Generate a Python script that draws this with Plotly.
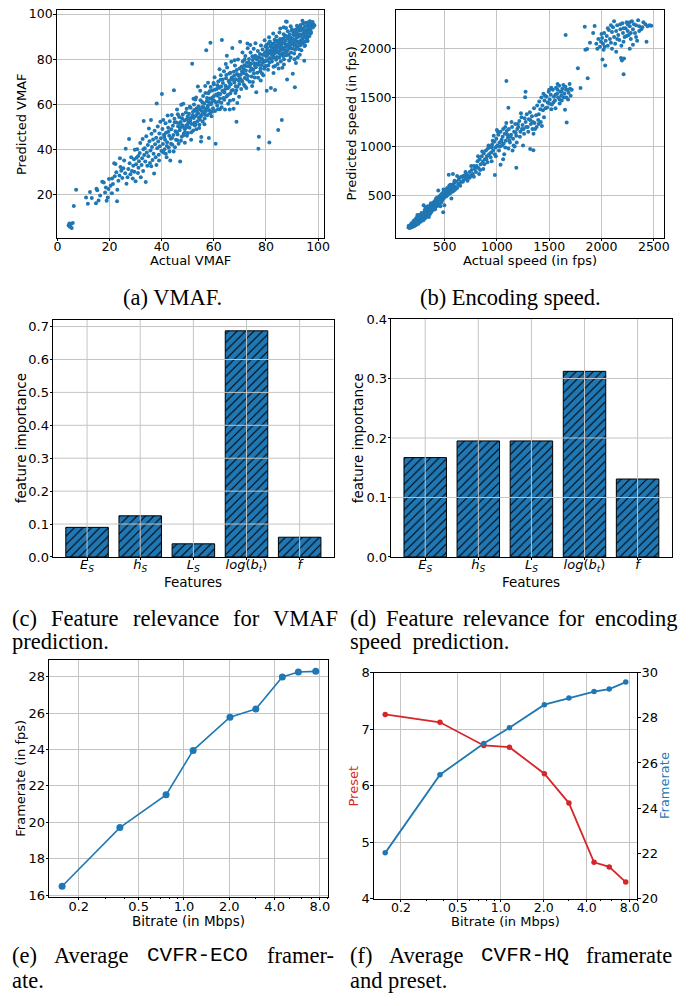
import plotly.graph_objects as go

W, H = 699, 1006
BLUE = "#1f77b4"
RED = "#d62728"
GRID = "#c4c4c4"

# ---------------- data ----------------
vmaf_points = [
    (4.3,6.2),(4.8,5.6),(5.2,6.8),(5.5,5.1),(5.9,7.3),(4.6,7.0),(6.3,14.8),(7.2,22.0),
    (11.0,18.6),(11.7,15.8),(13.2,18.4),(14.8,16.0),(15.3,21.8),(15.8,17.3),(16.4,19.5),(17.2,25.6),(17.8,25.3),
    (18.3,20.8),(18.9,17.2),(19.3,18.6),(19.6,22.4),(15.0,22.5),(12.5,21.0),(18.6,23.0),(19.8,26.8),
    (20.4,23.8),(20.9,20.5),(21.3,24.6),(21.8,33.8),(22.3,33.5),(22.6,29.8),(22.9,16.9),(23.4,26.0),(23.8,28.4),
    (24.2,32.1),(24.5,30.5),(24.9,27.2),(25.3,31.6),(25.6,35.0),(26.0,29.3),(26.2,40.2),(26.5,24.7),(26.9,27.6),
    (27.2,31.2),(27.5,44.5),(27.7,33.8),(28.0,28.9),(28.3,36.5),(28.6,30.3),(28.9,27.0),(29.1,32.7),(29.4,35.6),
    (29.7,39.8),(30.0,25.8),(21.0,27.0),(23.0,22.0),(24.0,36.0),(22.0,28.0),(29.5,30.0),
    (30.2,33.4),(30.4,36.2),(30.6,40.0),(30.9,29.5),(31.1,31.8),(31.3,34.7),(31.6,38.3),(31.8,42.8),(32.0,27.6),
    (32.3,33.0),(32.5,36.0),(32.7,44.5),(32.9,30.3),(33.1,52.5),(33.3,37.5),(33.5,40.4),(33.7,34.6),(33.9,25.5),
    (34.1,45.8),(34.3,38.6),(34.5,32.7),(34.7,41.9),(34.9,36.9),(35.1,49.2),(35.3,43.6),(35.5,33.9),(35.7,39.4),
    (35.9,53.0),(36.1,46.9),(36.3,41.0),(36.5,35.2),(36.7,44.3),(36.9,38.0),(37.1,29.2),(37.3,48.2),(37.5,42.2),
    (37.7,36.4),(37.9,45.1),(38.1,60.3),(38.3,40.5),(38.5,50.1),(38.7,43.4),(38.9,37.6),(39.1,47.0),(39.3,41.3),
    (39.5,52.2),(39.7,44.9),(39.9,39.2),(40.1,64.5),(40.3,49.0),(40.5,42.3),(40.7,38.6),(40.9,46.4),(33.0,40.0),
    (31.0,37.0),(36.0,32.5),(38.0,33.0),(39.0,35.0),
    (41.1,40.0),(41.3,44.2),(41.5,51.6),(41.7,47.3),(41.9,36.5),(42.1,43.1),(42.3,55.0),(42.5,49.5),(42.7,40.8),
    (42.9,46.0),(43.1,52.4),(43.3,35.0),(43.5,44.7),(43.7,48.9),(43.9,55.2),(44.1,42.0),(44.3,50.4),(44.5,46.3),
    (44.7,66.2),(44.9,53.5),(45.1,40.9),(45.3,48.0),(45.5,44.2),(45.7,51.9),(45.9,57.6),(46.1,46.6),(46.3,50.2),
    (46.5,42.5),(46.7,54.3),(46.9,48.4),(47.1,34.6),(47.3,52.1),(47.5,59.8),(47.7,45.5),(47.9,50.7),(48.1,55.4),
    (48.3,60.2),(48.5,47.0),(48.7,52.8),(48.9,42.9),(49.1,49.3),(49.3,56.3),(49.5,53.2),(49.7,46.0),(49.9,51.0),
    (41.0,45.5),(42.0,41.5),(43.0,39.0),(44.0,45.0),(45.0,52.0),(46.0,44.0),(47.0,49.5),(48.0,50.0),(49.0,47.5),
    (50.0,54.5),(44.6,39.0),(45.8,47.5),(46.8,51.5),(47.8,53.8),(48.8,49.0),(49.6,58.0),(43.6,42.5),(42.6,47.8),
    (41.6,38.0),(40.6,53.0),(46.2,55.5),(47.4,43.8),(48.4,46.2),(49.4,50.5),
    (50.1,47.2),(50.3,51.9),(50.5,55.8),(50.7,49.6),(50.9,53.6),(51.1,58.4),(51.3,44.2),(51.5,51.2),(51.7,77.9),
    (51.9,55.0),(52.1,48.3),(52.3,53.9),(52.5,57.4),(52.7,50.6),(52.9,62.1),(53.1,54.8),(53.3,48.9),(53.5,56.9),
    (53.7,52.4),(53.9,67.9),(54.1,59.0),(54.3,54.0),(54.5,50.9),(54.7,57.6),(54.9,61.7),(55.1,43.5),(55.3,55.2),
    (55.5,58.8),(55.7,52.3),(55.9,63.6),(56.1,56.4),(56.3,60.2),(56.5,53.7),(56.7,68.1),(56.9,57.8),(57.1,84.0),
    (57.3,61.3),(57.5,55.1),(57.7,59.3),(57.9,64.9),(58.1,45.0),(58.3,57.3),(58.5,62.5),(58.7,87.3),(58.9,60.0),
    (59.1,54.6),(59.3,66.1),(59.5,63.0),(59.7,58.2),(59.9,69.4),(60.1,61.5),(60.3,72.0),(60.5,57.0),(60.7,42.5),
    (60.9,64.3),(50.0,50.0),(51.0,52.5),(52.0,56.5),(53.0,51.0),(54.0,56.0),(55.0,54.5),(56.0,58.5),(57.0,57.0),
    (58.0,61.0),(59.0,60.5),(60.0,63.5),(50.6,52.8),(51.6,54.2),(52.6,51.8),(53.6,55.6),(54.6,53.2),(55.6,60.9),
    (56.6,55.3),(57.6,58.6),(58.6,56.0),(59.6,61.9),(51.4,47.5),(52.4,59.9),(53.4,58.1),(54.4,49.4),(55.4,57.0),
    (56.4,51.1),(57.4,62.8),(58.4,65.8),(59.4,56.8),(55.2,45.4),(50.8,58.9),(53.2,63.0),(56.8,65.0),(58.8,67.6),
    (52.2,62.4),(54.8,66.0),(57.8,69.5),
    (61.1,66.7),(61.3,59.4),(61.5,63.7),(61.7,70.1),(61.9,61.1),(62.1,67.3),(62.3,57.8),(62.5,64.5),(62.7,72.8),
    (62.9,60.6),(63.1,88.5),(63.3,66.0),(63.5,69.4),(63.7,62.8),(63.9,74.6),(64.1,65.2),(64.3,57.6),(64.5,68.2),
    (64.7,71.5),(64.9,63.4),(65.1,76.3),(65.3,67.1),(65.5,60.2),(65.7,70.3),(65.9,73.6),(66.1,57.7),(66.3,64.8),
    (66.5,68.9),(66.7,78.8),(66.9,71.9),(67.1,85.0),(67.3,66.3),(67.5,62.0),(67.7,74.4),(67.9,69.6),(68.1,77.2),
    (68.3,65.0),(68.5,71.1),(68.7,52.2),(68.9,73.4),(69.1,67.8),(69.3,79.8),(69.5,70.5),(69.7,63.3),(69.9,75.8),
    (60.4,66.4),(61.4,68.4),(62.4,62.5),(63.4,71.0),(64.4,66.8),(65.4,64.1),(66.4,74.0),(67.4,70.8),(68.4,68.0),
    (69.4,72.7),(60.8,60.9),(61.8,64.8),(62.8,67.9),(63.8,65.5),(64.8,73.0),(65.8,67.6),(66.8,66.0),(67.8,72.6),
    (68.8,75.2),(69.8,69.0),(62.2,75.5),(64.6,77.8),(66.2,61.5),(67.6,58.0),(69.0,60.5),(63.0,58.6),(65.0,81.5),
    (68.0,79.5),(61.6,57.8),(66.6,71.0),(60.0,68.8),(70.0,71.5),(64.0,62.0),(66.0,69.5),(68.6,66.2),(62.6,70.8),
    (70.1,87.7),(70.3,73.1),(70.5,66.8),(70.7,76.6),(70.9,70.2),(71.1,79.0),(71.3,73.9),(71.5,68.7),(71.7,77.3),
    (71.9,71.6),(72.1,81.4),(72.3,75.0),(72.5,67.2),(72.7,78.4),(72.9,86.9),(73.1,72.5),(73.3,76.8),(73.5,80.1),
    (73.7,70.0),(73.9,74.7),(74.1,82.9),(74.3,77.9),(74.5,72.3),(74.7,68.1),(74.9,79.6),(75.1,75.3),(75.3,84.6),
    (75.5,78.2),(75.7,71.9),(75.9,81.5),(76.1,76.4),(76.3,65.3),(76.5,79.9),(76.7,74.0),(76.9,83.6),(77.1,40.2),
    (77.3,45.6),(77.5,78.8),(77.7,82.3),(77.9,76.0),(78.1,86.0),(78.3,80.3),(78.5,73.6),(78.7,84.3),(78.9,78.6),
    (79.1,81.9),(79.3,75.7),(79.5,88.4),(79.7,83.1),(79.9,79.4),(70.4,70.9),(71.4,75.6),(72.4,73.3),(73.4,78.5),
    (74.4,75.8),(75.4,73.7),(76.4,78.1),(77.4,80.7),(78.4,77.4),(79.4,79.0),(70.8,74.5),(71.8,79.8),(72.8,71.0),
    (73.8,77.0),(74.8,81.3),(75.8,77.0),(76.8,80.8),(77.8,74.6),(78.8,82.0),(79.8,85.6),(71.0,83.0),(73.0,84.8),
    (75.0,69.8),(77.0,71.7),(79.0,72.8),(72.0,68.0),(74.0,86.3),(76.0,87.0),(78.0,70.5),(80.0,77.0),(72.2,77.0),
    (75.6,80.6),(77.2,77.5),(78.6,79.9),(79.6,76.9),
    (80.1,81.3),(80.3,66.0),(80.5,84.9),(80.7,79.6),(80.9,77.2),(81.1,83.0),(81.3,43.0),(81.5,80.5),(81.7,85.8),
    (81.9,67.2),(82.1,82.2),(82.3,78.9),(82.5,86.8),(82.7,81.5),(82.9,76.6),(83.1,84.1),(83.3,88.6),(83.5,66.3),
    (83.7,82.8),(83.9,79.7),(84.1,86.2),(84.3,83.5),(84.5,77.8),(84.7,48.5),(84.9,85.3),(85.1,80.7),(85.3,87.6),
    (85.5,83.9),(85.7,78.9),(85.9,86.0),(86.1,53.0),(86.3,82.4),(86.5,89.1),(86.7,85.0),(86.9,79.9),(87.1,87.2),
    (87.3,83.0),(87.5,90.4),(87.7,96.7),(87.9,86.5),(88.1,71.0),(88.3,84.1),(88.5,89.2),(88.7,82.0),(88.9,87.8),
    (89.1,91.1),(89.3,85.2),(89.5,80.7),(89.7,88.6),(89.9,92.7),(80.2,86.3),(80.6,81.9),(81.0,87.0),(81.4,78.5),
    (81.8,84.0),(82.2,80.2),(82.6,83.3),(83.0,80.8),(83.4,85.4),(83.8,87.9),(84.2,81.0),(84.6,85.6),(85.0,82.6),
    (85.4,88.9),(85.8,84.7),(86.2,86.9),(86.6,81.4),(87.0,84.5),(87.4,88.3),(87.8,81.7),(88.2,86.3),(88.6,90.1),
    (89.0,84.8),(89.4,89.7),(89.8,86.6),(80.4,83.8),(81.2,89.7),(82.0,85.6),(82.8,91.4),(83.6,84.6),(84.4,88.2),
    (85.2,91.8),(86.0,88.2),(86.8,91.0),(87.6,85.6),(88.4,92.4),(89.2,87.3),(80.8,75.3),(81.6,82.7),(82.4,84.9),
    (83.2,82.6),(84.0,84.3),(84.8,86.9),(85.6,81.9),(86.4,84.2),(87.2,89.8),(88.0,83.4),(88.8,85.6),(89.6,83.0),
    (82.9,73.8),(84.9,75.8),(86.9,77.6),(88.9,79.4),(80.0,79.2),(83.5,77.0),(87.7,93.8),(89.5,94.6),(85.5,93.6),
    (86.3,76.2),(81.5,87.8),(84.0,90.0),(88.0,96.6),(86.8,94.2),(83.0,86.9),
    (90.1,89.0),(90.3,73.5),(90.5,92.0),(90.7,86.8),(90.9,90.5),(91.1,67.5),(91.3,88.6),(91.5,93.2),(91.7,85.5),
    (91.9,91.3),(92.1,87.7),(92.3,94.3),(92.5,89.9),(92.7,84.4),(92.9,92.6),(93.1,88.1),(93.3,95.1),(93.5,90.7),
    (93.7,86.9),(93.9,93.5),(94.1,89.2),(94.3,95.8),(94.5,91.6),(94.7,79.3),(94.9,94.4),(95.1,90.2),(95.3,96.2),
    (95.5,92.9),(95.7,88.6),(95.9,94.9),(96.1,91.8),(96.3,96.4),(96.5,93.8),(96.7,90.3),(96.9,96.8),(97.1,94.5),
    (97.3,92.1),(97.5,96.0),(97.7,95.0),(97.9,96.5),(98.3,95.4),(98.6,94.9),(90.2,84.7),(90.6,90.9),(91.0,86.1),
    (91.4,91.9),(91.8,89.6),(92.2,91.0),(92.6,87.1),(93.0,90.3),(93.4,92.8),(93.8,88.6),(94.2,93.2),(94.6,89.6),
    (95.0,92.4),(95.4,90.0),(95.8,93.0),(96.2,94.6),(96.6,95.3),(97.0,93.1),(90.4,88.0),(91.2,84.2),(92.0,85.5),
    (92.8,90.8),(93.6,84.0),(94.4,87.5),(95.2,87.8),(96.0,89.6),(90.8,82.5),(91.6,87.2),(92.4,92.9),(93.2,86.2),
    (94.0,91.0),(94.8,85.8),(95.6,91.2),(96.4,92.0),(92.2,80.8),(93.0,82.0),(95.0,86.0),(91.0,80.0),(94.0,97.0),
    (91.9,94.8),(93.3,93.9),(90.0,93.3),(96.0,88.0),(97.2,91.5),(98.0,94.0),(91.5,78.3),
]

speed_points = [
    (155,172),(162,180),(170,176),(175,195),(180,185),(186,200),(190,178),(195,210),(200,192),(205,220),(208,205),
    (212,188),(216,230),(220,212),(224,240),(228,198),(232,225),(236,250),(240,215),(244,236),(248,262),(252,228),
    (256,248),(260,275),(264,240),(268,258),(272,290),(276,250),(280,270),(284,300),(288,262),(292,285),(296,312),
    (300,275),(304,295),(308,330),(312,288),(316,308),(320,345),(324,298),(328,320),(332,360),(336,310),(340,333),
    (344,375),(348,322),(352,348),(356,390),(360,335),(364,362),(368,400),(372,348),(376,376),(380,412),(384,360),
    (388,390),(392,425),(396,372),(400,402),(404,440),(408,385),(412,415),(416,452),(420,398),(424,428),(428,465),
    (432,410),(436,442),(440,478),(444,422),(448,455),(452,492),(456,435),(460,468),(464,505),(468,448),(472,480),
    (476,518),(480,460),(484,494),(488,530),(492,472),(496,506),(500,545),
    (158,190),(166,168),(178,172),(184,215),(192,195),(198,182),(203,238),(210,200),(218,196),(226,218),(234,208),
    (238,268),(246,220),(254,282),(262,232),(270,244),(278,305),(286,280),(294,262),(302,318),(310,296),(318,270),
    (326,340),(334,295),(342,318),(350,370),(358,312),(366,385),(374,332),(382,378),(390,352),(398,415),(406,370),
    (414,400),(422,445),(430,392),(438,462),(446,405),(454,470),(462,440),(470,495),(478,450),(486,512),(494,488),
    (260,300),(280,320),(300,250),(320,300),(340,390),(360,310),(380,395),(400,380),(420,470),(440,430),(460,390),
    (480,520),(250,210),(270,230),(290,245),(310,350),(330,285),(350,330),(370,420),(390,370),(410,360),(430,480),
    (450,410),(470,430),(490,560),(230,270),(240,300),(215,250),(300,400),(320,380),(350,280),(487,329),(440,550),
    (498,400),
    (505,520),(510,555),(515,490),(520,540),(525,575),(530,505),(535,530),(540,560),(545,600),(550,520),(555,548),
    (560,585),(565,470),(570,560),(575,610),(580,540),(585,575),(590,625),(595,555),(600,590),(610,640),(620,575),
    (630,610),(640,680),(650,600),(660,640),(670,690),(680,655),(690,705),(700,670),(710,720),(720,650),(730,695),
    (740,740),(750,700),(760,760),(770,720),(780,690),(790,770),(800,740),(520,500),(560,530),(600,560),(640,620),
    (680,700),(720,700),(760,710),(800,790),(580,720),(620,700),(660,690),(700,740),(740,680),(780,800),(555,610),
    (595,650),(635,660),(675,640),(715,680),(755,800),(540,712),
    (805,800),(815,850),(825,780),(835,870),(845,820),(855,900),(865,845),(875,930),(885,870),(895,960),(905,900),
    (915,980),(925,920),(935,1000),(945,940),(955,1020),(965,960),(975,1050),(985,990),(995,1080),(1005,1010),
    (1015,1120),(1025,1040),(1035,1150),(1045,1070),(1055,1100),(1065,1030),(1075,1130),(1085,1060),(1095,1160),
    (1105,1090),(1115,1180),(1125,1040),(1135,1120),(1145,1200),(1155,1080),(1165,1150),(1175,1230),(1185,1110),
    (1195,1180),(820,900),(840,760),(860,950),(880,820),(900,870),(920,1010),(940,890),(960,1060),(980,920),
    (1000,1170),(1020,960),(1040,1050),(1060,1180),(1080,990),(1100,1120),(1120,1060),(1140,1250),(1160,1010),
    (1180,1140),(1200,1230),(830,720),(870,770),(910,840),(950,850),(990,900),(1030,1000),(1070,920),(1110,980),
    (1150,960),(1190,1040),(1091,1671),(1110,1396),(1186,782),(981,708),(1035,815),(1000,1000),(1050,1010),
    (950,990),(1090,1240),(1130,1100),(1170,1000),(1080,1200),(1010,1150),(970,1110),(1060,870),
    (1205,1200),(1215,1260),(1225,1150),(1235,1300),(1245,1220),(1255,1180),(1265,1290),(1275,1250),(1285,1330),
    (1295,1200),(1305,1280),(1315,1350),(1325,1230),(1335,1310),(1345,1250),(1355,1390),(1365,1180),(1375,1320),
    (1385,1420),(1395,1270),(1405,1460),(1415,1380),(1425,1500),(1435,1420),(1445,1540),(1455,1470),(1465,1390),
    (1475,1510),(1485,1450),(1495,1560),(1505,1480),(1515,1530),(1525,1430),(1535,1580),(1545,1510),(1555,1470),
    (1565,1600),(1575,1540),(1585,1500),(1595,1620),(1605,1560),(1615,1520),(1625,1590),(1635,1630),(1645,1540),
    (1655,1610),(1665,1500),(1675,1580),(1685,1550),(1695,1640),(1705,1520),(1715,1580),(1274,1560),(1270,1503),
    (1318,976),(1349,963),(1667,1245),(1651,1376),(1220,1100),(1240,1180),(1260,1130),(1280,1200),(1300,1150),
    (1320,1270),(1340,1180),(1360,1240),(1380,1200),(1400,1330),(1420,1250),(1440,1370),(1460,1520),(1480,1400),
    (1500,1440),(1520,1600),(1540,1450),(1560,1530),(1580,1580),(1600,1480),(1620,1560),(1640,1500),(1660,1580),
    (1680,1480),(1700,1590),(1520,1380),(1560,1390),(1600,1440),(1500,1580),(1580,1640),(1400,1230),(1430,1210),
    (1350,1130),(1250,1010),(1230,1340),(1450,1300),(1620,1470),
    (1774,1799),(1868,1698),(1799,1597),(1657,2141),(1840,2225),(1846,1990),(1862,1997),(1890,2060),(1920,2160),
    (1934,2232),
    (1950,2050),(1970,2100),(1985,2020),(1995,2070),(2005,2110),(2009,1889),(2015,2050),(2025,2160),(2035,1829),
    (2040,2080),(2050,2130),(2060,2030),(2070,2190),(2080,2100),(2090,2060),(2100,2170),(2110,2220),(2120,2120),
    (2130,2050),(2140,2180),(2150,2240),(2160,2140),(2170,2090),(2180,2200),(2186,1906),(2195,1880),(2200,2260),
    (2205,2160),(2211,1738),(2215,1900),(2220,2120),(2230,2210),(2240,2270),(2250,2180),(2260,2140),(2270,2230),
    (2280,2100),(2290,2280),(2300,2200),(2310,2250),(2320,2160),(2330,2240),(2340,2080),(2350,2290),(2360,2230),
    (2380,2200),(2400,2270),(2420,2250),(2430,2070),(2440,2230),(2460,2240),(2475,2235),(1960,2000),(2000,2150),
    (2030,2020),(2060,2210),(2090,2240),(2120,2280),(2150,2100),(2180,2250),(2210,2070),(2240,2130),(2270,2000),
    (2300,2040),(2330,2120),(2360,2180),(2390,2220),(2020,1990),(2100,2000),(2140,1970),(2210,2210),(2250,2250),
    (2280,2160),(2190,2030),(2270,2270),
]

feature_labels = [
    "<i>E</i><sub><i>S</i></sub>",
    "<i>h</i><sub><i>S</i></sub>",
    "<i>L</i><sub><i>S</i></sub>",
    "<i>log</i>(<i>b</i><sub><i>t</i></sub>)",
    "<i>f</i>",
]
vmaf_importance = [0.090, 0.125, 0.040, 0.687, 0.060]
speed_importance = [0.167, 0.195, 0.195, 0.312, 0.131]

bitrate_mbps = [0.155, 0.375, 0.76, 1.15, 2.02, 3.0, 4.5, 5.75, 7.5]
eco_framerate = [16.49, 19.71, 21.51, 23.95, 25.77, 26.22, 27.98, 28.25, 28.29]
hq_preset = [7.26, 7.12, 6.71, 6.68, 6.21, 5.69, 4.64, 4.56, 4.29]
hq_framerate = [22.02, 25.48, 26.86, 27.56, 28.58, 28.88, 29.16, 29.27, 29.58]

bitrate_ticks = [0.2, 0.5, 1.0, 2.0, 4.0, 8.0]
bitrate_ticktext = ["0.2", "0.5", "1.0", "2.0", "4.0", "8.0"]
bitrate_minor = [0.2, 0.3, 0.4, 0.5, 0.6, 0.7, 0.8, 0.9, 2, 3, 4, 5, 6, 7, 8, 9]

# ---------------- helpers ----------------
def fx(p):
    return p / W

def fy(p):
    return 1 - p / H

def dom_x(a, b):
    return [fx(a), fx(b)]

def dom_y(top, bottom):
    return [fy(bottom), fy(top)]

def axis(domain, anchor, tick=12.5, standoff=0, **kw):
    d = dict(
        domain=domain, anchor=anchor, showline=True, linecolor="black", linewidth=1,
        mirror=True, ticks="outside", ticklen=2.5, tickwidth=1, tickcolor="black",
        showgrid=True, gridcolor=GRID, gridwidth=1, zeroline=False,
        ticklabelstandoff=standoff,
        tickfont=dict(family="DejaVu Sans", size=tick, color="black"),
    )
    d.update(kw)
    return d

fig = go.Figure()

# (a) VMAF scatter
fig.add_trace(go.Scatter(
    x=[p[0] for p in vmaf_points], y=[p[1] for p in vmaf_points], mode="markers",
    marker=dict(color=BLUE, size=4, line=dict(width=0)), xaxis="x", yaxis="y"))

# (b) speed scatter
fig.add_trace(go.Scatter(
    x=[p[0] for p in speed_points], y=[p[1] for p in speed_points], mode="markers",
    marker=dict(color=BLUE, size=4, line=dict(width=0)), xaxis="x2", yaxis="y2"))

bar_marker = dict(
    color=BLUE, line=dict(color="black", width=1),
    pattern=dict(shape="/", fgcolor="black", bgcolor=BLUE, size=6, solidity=0.18, fillmode="replace"),
)
fig.add_trace(go.Bar(x=list(range(len(feature_labels))), y=vmaf_importance, width=0.8,
                     marker=bar_marker, xaxis="x3", yaxis="y3"))
fig.add_trace(go.Bar(x=list(range(len(feature_labels))), y=speed_importance, width=0.8,
                     marker=bar_marker, xaxis="x4", yaxis="y4"))

fig.add_trace(go.Scatter(x=bitrate_mbps, y=eco_framerate, mode="lines+markers",
                         line=dict(color=BLUE, width=1.6), marker=dict(color=BLUE, size=7),
                         xaxis="x5", yaxis="y5"))
fig.add_trace(go.Scatter(x=bitrate_mbps, y=hq_preset, mode="lines+markers",
                         line=dict(color=RED, width=1.8), marker=dict(color=RED, size=5.5),
                         xaxis="x6", yaxis="y6"))
fig.add_trace(go.Scatter(x=bitrate_mbps, y=hq_framerate, mode="lines+markers",
                         line=dict(color=BLUE, width=1.8), marker=dict(color=BLUE, size=5.5),
                         xaxis="x6", yaxis="y7"))

minor = dict(tickvals=bitrate_minor, ticks="outside", ticklen=1.5, tickwidth=0.8,
             tickcolor="black", showgrid=False)

XS = -5   # pull x tick labels closer to the axis (matplotlib-like)
YS = -2

fig.update_layout(
    width=W, height=H, margin=dict(l=0, r=0, t=0, b=0),
    paper_bgcolor="white", plot_bgcolor="white", showlegend=False,
    xaxis=axis(dom_x(54.3, 325), "y", standoff=XS, range=[-0.3, 102.2], tickvals=[0, 20, 40, 60, 80, 100]),
    yaxis=axis(dom_y(3.3, 234.3), "x", standoff=YS, range=[0.7, 101.7], tickvals=[20, 40, 60, 80, 100]),
    xaxis2=axis(dom_x(397.7, 669.3), "y2", standoff=XS, range=[32, 2594], tickvals=[500, 1000, 1500, 2000, 2500]),
    yaxis2=axis(dom_y(2.7, 234.3), "x2", standoff=YS, range=[67, 2399], tickvals=[500, 1000, 1500, 2000]),
    xaxis3=axis(dom_x(50.7, 335), "y3", tick=13, standoff=-7, range=[-0.64, 4.64], showgrid=False,
                tickvals=list(range(5)), ticktext=feature_labels),
    yaxis3=axis(dom_y(317.7, 558.3), "x3", tick=13, standoff=YS, range=[0, 0.72], showgrid=False,
                tickvals=[0, 0.1, 0.2, 0.3, 0.4, 0.5, 0.6, 0.7], tickformat=".1f"),
    xaxis4=axis(dom_x(393.3, 677.3), "y4", tick=13, standoff=-7, range=[-0.64, 4.64], showgrid=False,
                tickvals=list(range(5)), ticktext=feature_labels),
    yaxis4=axis(dom_y(316.7, 558.3), "x4", tick=13, standoff=YS, range=[0, 0.4], showgrid=False,
                tickvals=[0, 0.1, 0.2, 0.3, 0.4], tickformat=".1f"),
    xaxis5=axis(dom_x(46.7, 329.3), "y5", tick=13, standoff=-5, type="log", range=[-0.896, 0.957],
                tickvals=bitrate_ticks, ticktext=bitrate_ticktext, minor=minor),
    yaxis5=axis(dom_y(663.3, 903.3), "x5", tick=13, standoff=YS, range=[15.91, 28.89],
                tickvals=[16, 18, 20, 22, 24, 26, 28]),
    xaxis6=axis(dom_x(375.7, 642.7), "y6", tick=12.5, standoff=-5, type="log", range=[-0.889, 0.957],
                tickvals=bitrate_ticks, ticktext=bitrate_ticktext, minor=minor),
    yaxis6=axis(dom_y(675.7, 905), "x6", tick=13, standoff=YS, range=[4, 8], tickvals=[4, 5, 6, 7, 8]),
    yaxis7=axis(dom_y(675.7, 905), "x6", tick=13, standoff=YS, range=[20, 30], overlaying="y6",
                side="right", showgrid=False, tickvals=[20, 22, 24, 26, 28, 30]),
)

# grid lines drawn over the bars (as in the original)
shapes = []
for xa, ya, ticks in (("x3", "y3", [0.1, 0.2, 0.3, 0.4, 0.5, 0.6, 0.7]), ("x4", "y4", [0.1, 0.2, 0.3])):
    for i in range(len(feature_labels)):
        shapes.append(dict(type="line", xref=xa, yref=ya + " domain", x0=i, x1=i, y0=0, y1=1,
                           line=dict(color=GRID, width=1), layer="above"))
    for t in ticks:
        shapes.append(dict(type="line", xref=xa + " domain", yref=ya, x0=0, x1=1, y0=t, y1=t,
                           line=dict(color=GRID, width=1), layer="above"))
fig.update_layout(shapes=shapes)

ann = []

def label(text, x, y, size=13, angle=0, color="black", xanchor="center", family="DejaVu Sans"):
    ann.append(dict(text=text, x=fx(x), y=fy(y), xref="paper", yref="paper", showarrow=False,
                    xanchor=xanchor, yanchor="middle", textangle=angle,
                    font=dict(family=family, size=size, color=color)))

# axis titles
label("Predicted VMAF", 18.3, 118.8, angle=-90)
label("Actual VMAF", 189.7, 257.5)
label("Predicted speed (in fps)", 353.3, 118.5, angle=-90)
label("Actual speed (in fps)", 533.5, 257.5)
label("feature importance", 19, 438, size=13.5, angle=-90)
label("Features", 192.9, 584, size=13.5)
label("feature importance", 360, 437.5, size=13.5, angle=-90)
label("Features", 535.3, 584, size=13.5)
label("Framerate (in fps)", 18.3, 783.3, angle=-90)
label("Bitrate (in Mbps)", 188, 928, size=13.5)
label("Preset", 355.5, 790.4, angle=-90, color=RED)
label("Framerate", 670, 790.4, angle=-90, color=BLUE)
label("Bitrate (in Mbps)", 509.2, 928.5)

# captions
SERIF = "Liberation Serif"
MONO = "Liberation Mono"
CS = 22.5
L1, L2 = 963, 988
label("(a) VMAF.", 172, 295, size=CS, family=SERIF)
label("(b) Encoding speed.", 514, 295, size=CS, family=SERIF)
for word, x in (("(c)", 7), ("Feature", 47), ("relevance", 129.5), ("for", 230.5), ("VMAF", 271.5)):
    label(word, x, 621, size=CS, family=SERIF, xanchor="left")
label("prediction.", 7, 644, size=CS, family=SERIF, xanchor="left")
for word, x in (("(d)", 349), ("Feature", 385.8), ("relevance", 463.9), ("for", 560.7), ("encoding", 597.5)):
    label(word, x, 621, size=CS, family=SERIF, xanchor="left")
label("speed  prediction.", 349, 644, size=CS, family=SERIF, xanchor="left")
label("(e)", 7, L1, size=CS, family=SERIF, xanchor="left")
label("Average", 49.8, L1, size=CS, family=SERIF, xanchor="left")
label("CVFR-ECO", 143.8, L1, size=21, family=MONO, xanchor="left")
label("framer-", 337, L1, size=CS, family=SERIF, xanchor="right")
label("ate.", 7, L2, size=CS, family=SERIF, xanchor="left")
label("(f)", 349, L1, size=CS, family=SERIF, xanchor="left")
label("Average", 388.8, L1, size=CS, family=SERIF, xanchor="left")
label("CVFR-HQ", 482.1, L1, size=21, family=MONO, xanchor="left")
label("framerate", 680, L1, size=CS, family=SERIF, xanchor="right")
label("and preset.", 349, L2, size=CS, family=SERIF, xanchor="left")

fig.update_layout(annotations=ann)
fig.write_html("out.html")
